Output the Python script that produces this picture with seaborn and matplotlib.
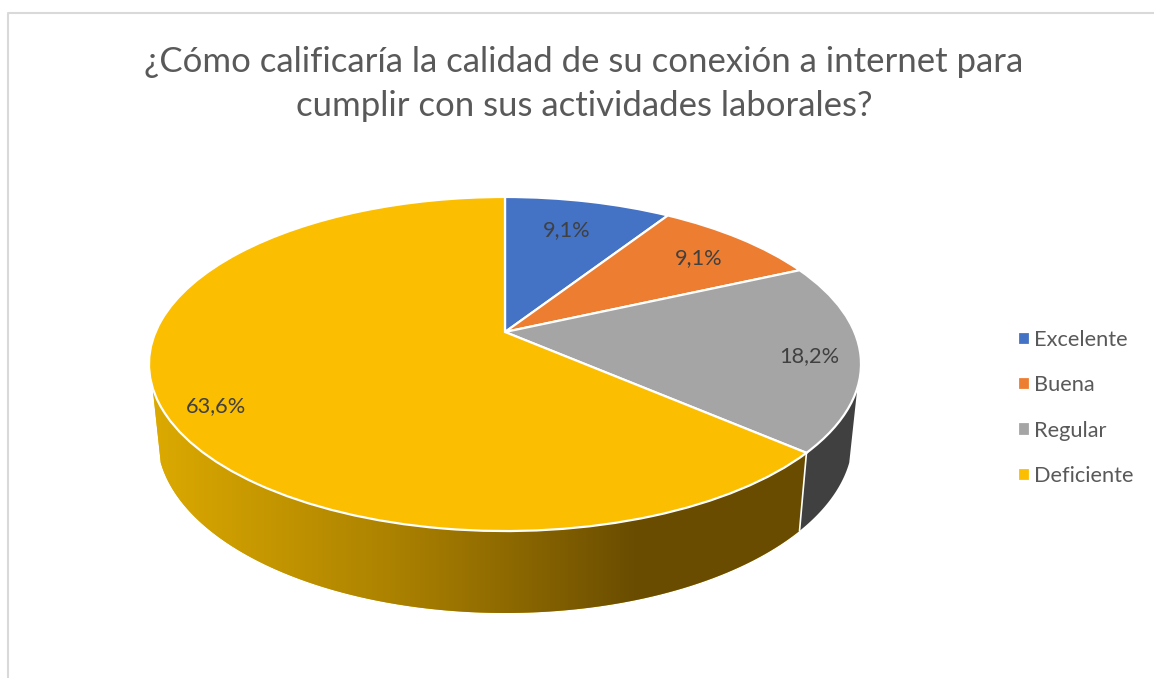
#!/usr/bin/env python3
"""3D-looking pie of internet connection quality ratings."""

import matplotlib
matplotlib.use("Agg")
import matplotlib.pyplot as plt
import numpy as np
import seaborn as sns
from matplotlib.colors import LinearSegmentedColormap
from matplotlib.transforms import Transform

TITLE = "¿Cómo calificaría la calidad de su conexión a internet para\ncumplir con sus actividades laborales?"
CATEGORIES = ["Excelente", "Buena", "Regular", "Deficiente"]
PERCENTS = [9.1, 9.1, 18.2, 63.6]
COLORS = ["#4472C4", "#ED7D31", "#A5A5A5", "#FBBE00"]

# tilt of the disc, in pixels of the out.png canvas
CX, CY = 505, 332
SX, SY = 349.4, 160.9
TILT = 0.1916
DROP, RIM_X, RIM_Y = 72, 0.977, 1.05


def project(x, y, rim=False):
    w = 1 + TILT * y
    px, py = SX * x / w, -SY * y / w
    if rim:
        return CX + RIM_X * px, CY + DROP + RIM_Y * py
    return CX + px, CY + py


def on_disc(deg, r=1.0):
    rad = np.radians(deg)
    return r * np.sin(rad), r * np.cos(rad)


class Tilted(Transform):
    input_dims = 2
    output_dims = 2

    def transform_non_affine(self, values):
        values = np.asarray(values)
        px, py = project(values[:, 0], values[:, 1])
        return np.column_stack([px, py])


def wall(start, end):
    deg = np.linspace(start, end, 200)
    x, y = on_disc(deg)
    tx, ty = project(x, y)
    bx, by = project(x, y, rim=True)
    return np.r_[tx, bx[::-1]], np.r_[ty, by[::-1]]


def main() -> None:
    sns.set_theme(style="white")
    plt.rcParams["font.family"] = ["Lato", "DejaVu Sans"]

    fig = plt.figure(figsize=(11.54, 6.78), dpi=100)
    ax = fig.add_axes([0, 0, 1, 1])

    edges = np.cumsum([0] + PERCENTS) * 3.6
    wedges, _ = ax.pie(
        PERCENTS,
        colors=sns.color_palette(COLORS),
        startangle=90,
        counterclock=False,
        wedgeprops={"edgecolor": "white", "linewidth": 1.6},
    )
    for wedge in wedges:
        wedge.set_transform(Tilted() + ax.transData)
        wedge.set_zorder(3)

    # side walls, only the part facing the viewer is visible
    wx, wy = wall(109, edges[3])
    ax.fill(wx, wy, color="#404040", lw=0, zorder=1)

    wx, wy = wall(edges[3], 251)
    clip = ax.fill(wx, wy, color="#D9A700", lw=0, zorder=1)[0]
    shade = LinearSegmentedColormap.from_list(
        "side",
        [(0, "#DCAA00"), (0.38, "#AA8000"), (0.58, "#876400"), (0.74, "#694C00"), (1, "#6A4D00")],
    )
    img = ax.imshow(
        np.linspace(0, 1, 512)[None, :],
        extent=(150, 810, 620, 380),
        cmap=shade,
        aspect="auto",
        zorder=2,
    )
    img.set_clip_path(clip)

    tx, ty = project(*on_disc(edges[3]))
    bx, by = project(*on_disc(edges[3]), rim=True)
    ax.plot([tx, bx], [ty, by], color="white", lw=1.2, zorder=2.5)

    # data labels with a decimal comma
    spots = [(15.6, 0.75), (50.4, 0.79), (99.7, 0.86), (241, 0.87)]
    for pct, (deg, r) in zip(PERCENTS, spots):
        lx, ly = project(*on_disc(deg, r))
        ax.text(lx, ly, f"{pct:.1f}%".replace(".", ","), ha="center", va="center",
                fontsize=15.7, color="#404040", zorder=4)

    ax.text(584, 84, TITLE, ha="center", va="center", fontsize=25, color="#595959",
            linespacing=1.5)

    ax.plot([8, 8, 1154], [678, 13, 13], color="#D9D9D9", lw=1.5, zorder=0)

    ax.legend(
        wedges,
        CATEGORIES,
        loc="center left",
        bbox_to_anchor=(998 / 1154, 1 - 408 / 678),
        frameon=False,
        fontsize=15.7,
        labelcolor="#595959",
        handlelength=0.55,
        handleheight=0.55,
        handletextpad=0.2,
        labelspacing=1.16,
    )

    ax.set_aspect("auto")
    ax.set_xlim(0, 1154)
    ax.set_ylim(678, 0)
    fig.savefig("out.png", dpi=100, facecolor="white")
    plt.close(fig)


if __name__ == "__main__":
    main()
